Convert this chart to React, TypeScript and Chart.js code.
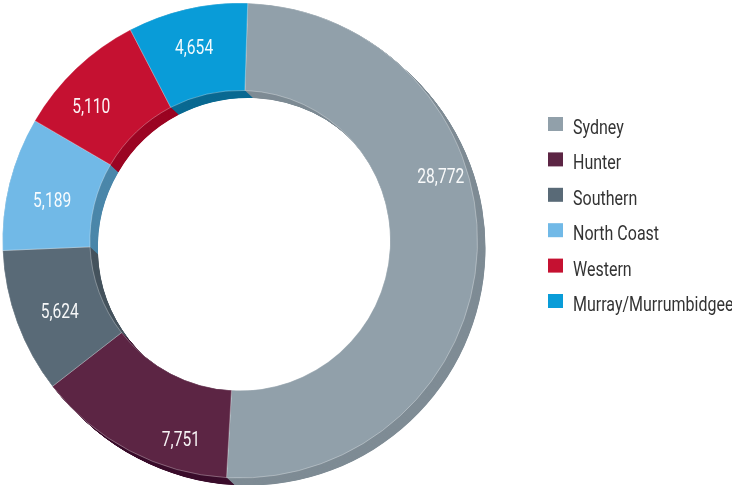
import React, { useEffect, useRef } from 'react';
import { Chart, registerables } from 'chart.js';

Chart.register(...registerables);

const REGIONS = ['Sydney', 'Hunter', 'Southern', 'North Coast', 'Western', 'Murray/Murrumbidgee'];
const COUNTS = [28772, 7751, 5624, 5189, 5110, 4654];
const FACE_COLORS = ['#91a0aa', '#5c2544', '#596a77', '#71b9e7', '#c51131', '#099cd8'];
const SIDE_COLORS = ['#7f8c95', '#3c0f2d', '#46545e', '#4b87aa', '#9b0523', '#0b6a92'];
// where each value label sits: fraction along the slice's arc, fraction across the ring
const LABEL_ALONG = [0.39, 0.27, 0.46, 0.44, 0.36, 0.48];
const LABEL_ACROSS = [0.69, 0.67, 0.5, 0.48, 0.57, 0.55];

const FONT_FAMILY = 'Roboto, "Liberation Sans", sans-serif';

function condensedText(ctx: CanvasRenderingContext2D, text: string, x: number, y: number, sx: number) {
  ctx.save();
  ctx.translate(x, y);
  ctx.scale(sx, 1);
  ctx.fillText(text, 0, 0);
  ctx.restore();
}

const extrusionPlugin = {
  id: 'extrusion',
  beforeDatasetsDraw(chart: any) {
    const meta = chart.getDatasetMeta(0);
    const ctx = chart.ctx;
    const DX = 8;
    const DY = 7.5;
    const STEPS = 30;
    ctx.save();
    for (let s = STEPS; s >= 1; s--) {
      const t = s / STEPS;
      meta.data.forEach((arc: any, i: number) => {
        const p = arc.getProps(['x', 'y', 'startAngle', 'endAngle', 'innerRadius', 'outerRadius'], true);
        ctx.beginPath();
        ctx.arc(p.x + DX * t, p.y + DY * t, p.outerRadius, p.startAngle, p.endAngle);
        ctx.arc(p.x + DX * t, p.y + DY * t, p.innerRadius, p.endAngle, p.startAngle, true);
        ctx.closePath();
        ctx.fillStyle = SIDE_COLORS[i];
        ctx.fill();
      });
    }
    ctx.restore();
  },
};

const valueLabelPlugin = {
  id: 'valueLabels',
  afterDatasetsDraw(chart: any) {
    const meta = chart.getDatasetMeta(0);
    const ctx = chart.ctx;
    ctx.save();
    ctx.font = `19.5px ${FONT_FAMILY}`;
    ctx.fillStyle = 'rgba(255,255,255,0.95)';
    ctx.textAlign = 'center';
    ctx.textBaseline = 'middle';
    meta.data.forEach((arc: any, i: number) => {
      const p = arc.getProps(['x', 'y', 'startAngle', 'endAngle', 'innerRadius', 'outerRadius'], true);
      const a = p.startAngle + (p.endAngle - p.startAngle) * LABEL_ALONG[i];
      const r = p.innerRadius + (p.outerRadius - p.innerRadius) * LABEL_ACROSS[i];
      const text = COUNTS[i].toLocaleString('en-US');
      condensedText(ctx, text, p.x + r * Math.cos(a), p.y + r * Math.sin(a) + 1, 0.8);
    });
    ctx.restore();
  },
};

const legendPlugin = {
  id: 'sideLegend',
  afterDraw(chart: any) {
    const ctx = chart.ctx;
    const x0 = 548;
    const y0 = 117;
    const step = 35.4;
    ctx.save();
    ctx.font = `20px ${FONT_FAMILY}`;
    ctx.textAlign = 'left';
    ctx.textBaseline = 'alphabetic';
    REGIONS.forEach((name, i) => {
      const y = y0 + i * step;
      ctx.fillStyle = FACE_COLORS[i];
      ctx.fillRect(x0, y, 15, 14);
      ctx.fillStyle = '#333333';
      condensedText(ctx, name, x0 + 25, y + 17, 0.8);
    });
    ctx.restore();
  },
};

export default function App() {
  const ref = useRef<HTMLCanvasElement | null>(null);
  useEffect(() => {
    if (!ref.current) return;
    const chart = new Chart(ref.current, {
      type: 'doughnut',
      data: {
        labels: REGIONS,
        datasets: [
          {
            data: COUNTS,
            backgroundColor: FACE_COLORS,
            borderColor: 'rgba(255,255,255,0.3)',
            borderWidth: 1,
            hoverOffset: 0,
          },
        ],
      },
      options: {
        responsive: false,
        animation: false,
        rotation: 1.86,
        radius: 237.5,
        cutout: '63.2%',
        layout: { padding: { left: 2, right: 254, top: 2, bottom: 6 } },
        plugins: {
          legend: { display: false },
          tooltip: { enabled: false },
        },
      },
      plugins: [extrusionPlugin, valueLabelPlugin, legendPlugin],
    });
    return () => chart.destroy();
  }, []);
  return (
    <div style={{ position: 'fixed', left: 0, top: 0, width: 732, height: 485, background: '#ffffff' }}>
      <canvas ref={ref} width={732} height={485} style={{ width: 732, height: 485, display: 'block' }} />
    </div>
  );
}
